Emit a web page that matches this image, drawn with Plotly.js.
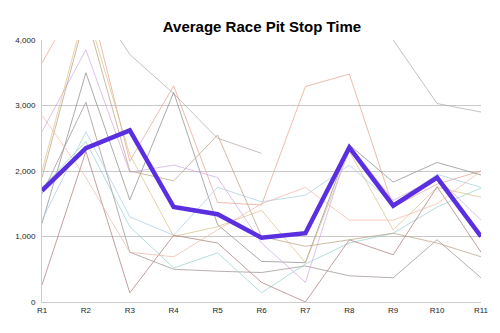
<!DOCTYPE html>
<html>
<head>
<meta charset="utf-8">
<script src="https://cdn.plot.ly/plotly-3.0.1.min.js"></script>
<style>html,body{margin:0;padding:0;background:#fff;}#chart{width:500px;height:333px;}</style>
</head>
<body>
<div id="chart"></div>
<script>
const races = ["R1","R2","R3","R4","R5","R6","R7","R8","R9","R10","R11"];

const teamA = [3650, 4830, 2150, 3300, 1520, 1480, 3290, 3480, 1450, 1800, 2000];
const teamB = [null, 4800, 3780, 3180, 2500, 2270, null, null, 4000, 3030, 2900];
const teamC = [1200, 3500, 1560, 3200, 1180, 620, 600, 2400, 1830, 2130, 1940];
const teamD = [1650, 3050, 760, 500, 470, 450, 550, 400, 370, 950, 370];
const teamE = [1250, 2600, 1300, 1020, 1750, 1530, 1630, 2090, 1500, 1950, 1750];
const teamF = [1750, 2450, 1150, 520, 750, 140, 580, 900, 1050, 1450, 1740];
const teamG = [2600, 3850, 1980, 2090, 1900, 900, 300, 2400, 1550, 1900, 1250];
const teamH = [2000, 4500, 2250, 1000, 1150, 1400, 600, 2300, 1100, 1750, 1600];
const teamI = [260, 2300, 140, 1020, 900, 300, 0, 950, 720, 1760, 760];
const teamJ = [1900, 4400, 2000, 1850, 2550, 1000, 850, 950, 1050, 900, 690];
const teamK = [2850, 1900, 760, 690, 1100, 1500, 1750, 1250, 1250, 1500, 2000];
const average = [1700, 2350, 2620, 1450, 1340, 980, 1050, 2360, 1470, 1900, 1000];

const thin = [
  [teamA, "#e8a08e"],
  [teamB, "#b4a9a9"],
  [teamC, "#8a8a8a"],
  [teamD, "#9a9090"],
  [teamE, "#a8cce8"],
  [teamF, "#96d0d0"],
  [teamG, "#cfa8e6"],
  [teamH, "#d9c288"],
  [teamI, "#a87a78"],
  [teamJ, "#b8a080"],
  [teamK, "#f0b8a8"]
];

const traces = thin.map(([vals, col], i) => ({
  x: races, y: vals, type: "scatter", mode: "lines",
  line: {color: col, width: 0.9}, opacity: 0.8, connectgaps: false,
  name: "Team " + (i + 1), hoverinfo: "skip"
}));
traces.push({
  x: races, y: average, type: "scatter", mode: "lines",
  line: {color: "#5a2fe0", width: 4.5}, name: "Average"
});

const layout = {
  width: 500, height: 333,
  margin: {l: 42, r: 19, t: 40, b: 31},
  showlegend: false,
  paper_bgcolor: "#fff", plot_bgcolor: "#fff",
  title: {text: "<b>Average Race Pit Stop Time</b>", x: 0.524, xanchor: "center", y: 0.92, yanchor: "middle",
          font: {family: "Liberation Sans, Arial, sans-serif", size: 15, color: "#000"}},
  xaxis: {
    type: "category", range: [0, 10], showgrid: false, zeroline: false,
    showline: true, linecolor: "#cccccc", linewidth: 1,
    ticks: "", tickfont: {family: "Liberation Sans, Arial, sans-serif", size: 8, color: "#222"},
    fixedrange: true
  },
  yaxis: {
    range: [0, 4000], tickvals: [0, 1000, 2000, 3000, 4000],
    ticktext: ["0", "1,000", "2,000", "3,000", "4,000"],
    showgrid: true, gridcolor: "#c8c8c8", gridwidth: 1, zeroline: false,
    showline: true, linecolor: "#cccccc", linewidth: 1,
    ticks: "", ticklabelstandoff: 4,
    tickfont: {family: "Liberation Sans, Arial, sans-serif", size: 8, color: "#222"},
    fixedrange: true
  }
};

Plotly.newPlot("chart", traces, layout, {displayModeBar: false, staticPlot: true});
</script>
</body>
</html>
